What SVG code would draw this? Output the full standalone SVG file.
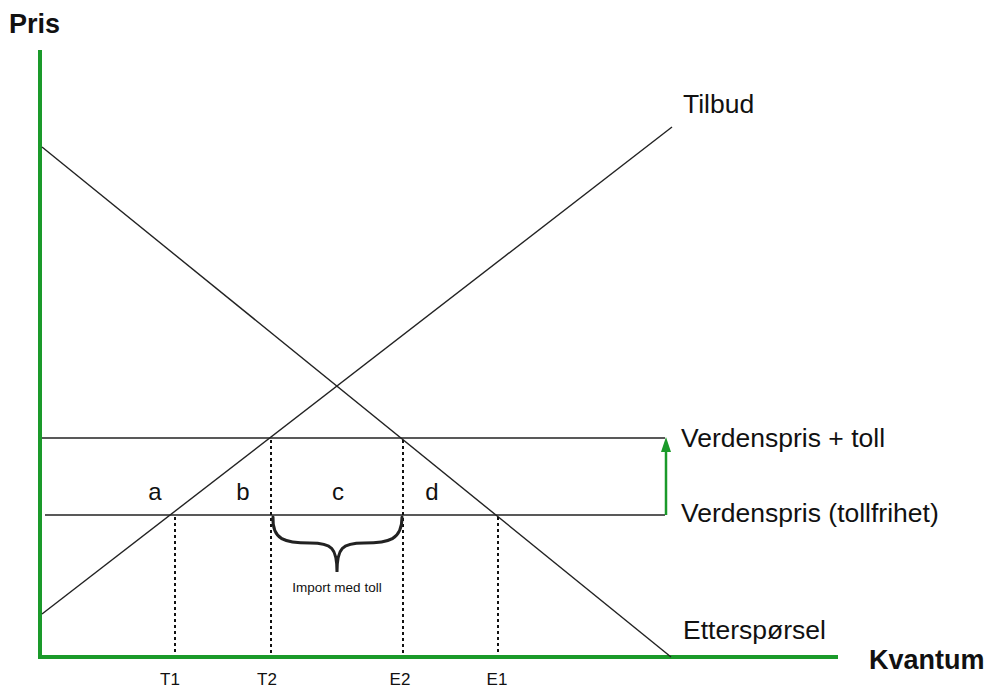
<svg xmlns="http://www.w3.org/2000/svg" width="987" height="688" viewBox="0 0 987 688">
<style>
text{font-family:"Liberation Sans",Arial,sans-serif;fill:#111}
.lbl{font-size:26.5px}
.ltr{font-size:24px;text-anchor:middle}
.tick{font-size:17px;text-anchor:middle}
.big{font-size:27px;font-weight:bold}
.ln{stroke:#222;stroke-width:1.4;fill:none}
.dot{stroke:#111;stroke-width:2;stroke-dasharray:3 3;fill:none}
.axis{stroke:#1a9a2a;stroke-width:4;fill:none}
</style>
<g id="axes">
<line class="axis" x1="40" y1="50" x2="40" y2="659"/>
<line class="axis" x1="38" y1="657" x2="838" y2="657"/>
<text class="big" x="9" y="33">Pris</text>
<text class="big" x="869" y="669">Kvantum</text>
</g>
<g id="connectors">
<line class="ln" x1="42" y1="147" x2="671" y2="657"/>
<line class="ln" x1="42" y1="614" x2="672" y2="127"/>
<line class="ln" x1="42" y1="438" x2="665" y2="438"/>
<line class="ln" x1="45" y1="515" x2="665" y2="515"/>
<line class="dot" x1="175" y1="517" x2="175" y2="655"/>
<line class="dot" x1="271" y1="440" x2="271" y2="655"/>
<line class="dot" x1="403" y1="440" x2="403" y2="655"/>
<line class="dot" x1="498" y1="517" x2="498" y2="655"/>
<line x1="666" y1="515" x2="666" y2="452" stroke="#1a9a2a" stroke-width="2.5"/>
<path d="M661,452 L666,437 L671,452 Z" fill="#1a9a2a"/>
<path d="M273,517 C272,540 285,543 310,543 C332,543 337,548 337,572 C337,548 342,543 364,543 C389,543 402,540 402,517" stroke="#222" stroke-width="3" fill="none" stroke-linecap="round"/>
</g>
<g id="labels">
<text class="lbl" x="683" y="113">Tilbud</text>
<text class="lbl" x="681" y="447">Verdenspris + toll</text>
<text class="lbl" x="681" y="522">Verdenspris (tollfrihet)</text>
<text class="lbl" x="683" y="639">Etterspørsel</text>
<text class="ltr" x="155" y="500">a</text>
<text class="ltr" x="243" y="500">b</text>
<text class="ltr" x="338" y="500">c</text>
<text class="ltr" x="432" y="500">d</text>
<text x="337" y="592" font-size="13.5" text-anchor="middle" fill="#222">Import med toll</text>
<text class="tick" x="170" y="685">T1</text>
<text class="tick" x="267" y="685">T2</text>
<text class="tick" x="400" y="685">E2</text>
<text class="tick" x="497" y="685">E1</text>
</g>
</svg>
